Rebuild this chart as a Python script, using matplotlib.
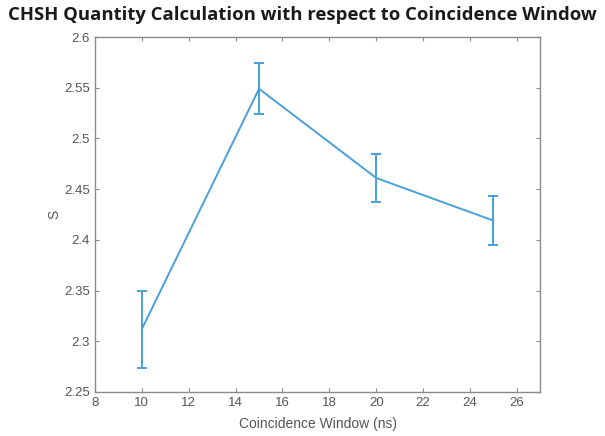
import matplotlib
matplotlib.use("Agg")
import matplotlib.pyplot as plt

# Coincidence window (ns) vs CHSH quantity S, with error bars
window_ns = [10, 15, 20, 25]
s_value   = [2.312, 2.549, 2.461, 2.419]
s_error   = [0.038, 0.025, 0.024, 0.024]

x_ticks = [8, 10, 12, 14, 16, 18, 20, 22, 24, 26]
y_ticks = [2.25, 2.3, 2.35, 2.4, 2.45, 2.5, 2.55, 2.6]

LINE_COLOR = "#4aa0da"
AXIS_COLOR = "#8a8a8a"
TEXT_COLOR = "#555555"

plt.rcParams["font.family"] = ["Liberation Sans", "DejaVu Sans"]

fig = plt.figure(figsize=(6.05, 4.36), dpi=100)
ax = fig.add_axes([0.157, 0.101, 0.736, 0.814])

ax.errorbar(window_ns, s_value, yerr=s_error, color=LINE_COLOR,
            linewidth=1.4, elinewidth=1.4, capsize=3.5, capthick=1.4)

ax.set_xlim(8, 27)
ax.set_ylim(2.25, 2.6)
ax.set_xticks(x_ticks)
ax.set_yticks(y_ticks)
ax.set_xticklabels([str(t) for t in x_ticks])
ax.set_yticklabels(["2.25", "2.3", "2.35", "2.4", "2.45", "2.5", "2.55", "2.6"])

ax.tick_params(direction="in", top=True, right=True, length=3,
               color=AXIS_COLOR, labelcolor=TEXT_COLOR, labelsize=9.5, width=0.8)
for sp in ax.spines.values():
    sp.set_color(AXIS_COLOR)
    sp.set_linewidth(1.0)

ax.set_xlabel("Coincidence Window (ns)", fontsize=10, color=TEXT_COLOR, labelpad=6)
ax.set_ylabel("S", fontsize=10, color=TEXT_COLOR, labelpad=2)

fig.text(0.5, 0.966, "CHSH Quantity Calculation with respect to Coincidence Window",
         ha="center", va="center", fontsize=13.3, fontweight="bold",
         family=["Open Sans", "DejaVu Sans"], color="#1a1a1a")

fig.savefig("out.png", dpi=100)
